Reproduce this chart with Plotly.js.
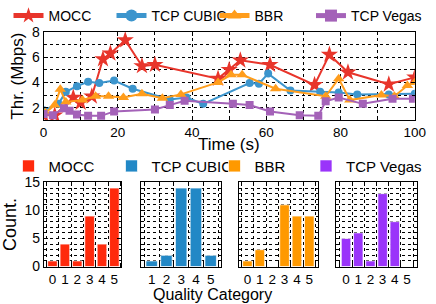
<!DOCTYPE html>
<html><head><meta charset="utf-8">
<script src="https://cdn.plot.ly/plotly-3.0.1.min.js"></script>
<style>html,body{margin:0;padding:0;background:#fff}</style></head>
<body><div id="chart" style="width:436px;height:304px"></div>
<script>
// ---- time series (top) ----
const moccX  = [0, 3, 8, 10, 13, 16, 18, 22, 26.5, 30, 47, 50, 53, 61, 73, 77, 82, 93, 100];
const moccY  = [1.4, 1.4, 2.8, 2.4, 2.9, 5.85, 6.3, 7.35, 5.3, 5.4, 4.3, 5.0, 5.75, 5.4, 3.8, 6.2, 4.8, 3.85, 4.4];
const cubicX = [0, 4, 6, 9, 12, 15, 19, 24, 34, 38.5, 43, 55.5, 58, 60.5, 66.5, 74.5, 79.5, 84.5, 93, 100];
const cubicY = [1.8, 2.3, 3.25, 3.7, 4.05, 3.95, 4.15, 3.5, 2.65, 2.8, 2.3, 3.95, 3.9, 4.7, 3.35, 3.25, 3.2, 3.05, 3.05, 3.1];
const bbrX   = [0.5, 3, 4.5, 6, 10.5, 14, 17.5, 21.5, 26.5, 32, 37, 47, 50.5, 53.5, 62.5, 76, 79.5, 82.5, 91, 94.5, 98, 100];
const bbrY   = [1.6, 2.2, 3.45, 2.45, 2.6, 2.9, 2.9, 2.8, 3.1, 2.75, 3.05, 4.0, 4.6, 4.6, 3.5, 2.9, 4.3, 2.6, 3.0, 2.9, 3.75, 4.0];
const vegasX = [0, 2.5, 5.5, 7, 9, 12, 15.5, 19, 30, 34, 38, 51, 55.5, 61, 69, 74, 76, 79.5, 86, 94, 99.5];
const vegasY = [1.5, 1.4, 1.95, 1.75, 1.45, 1.35, 1.35, 1.7, 1.85, 2.2, 2.55, 2.3, 2.2, 1.7, 1.4, 1.35, 2.5, 2.8, 2.3, 2.7, 2.7];

// ---- quality histograms (bottom) ----
const moccCats  = [0, 1, 2, 3, 4, 5];
const moccCnt   = [1, 4, 1, 9, 4, 14];
const cubicCats = [1, 2, 3, 4, 5];
const cubicCnt  = [1, 2, 14, 14, 2];
const bbrCats   = [0, 1, 2, 3, 4, 5];
const bbrCnt    = [1, 3, 0, 11, 9, 9];
const vegasCats = [0, 1, 2, 3, 4, 5];
const vegasCnt  = [5, 6, 1, 13, 8, 0];

const names = ['MOCC', 'TCP CUBIC', 'BBR', 'TCP Vegas'];
const lineColors = ['#e8352b', '#3c95cd', '#ff9d1c', '#a462b8'];
const barColors  = ['#ff2a0c', '#2288c6', '#ff9900', '#9a34fa'];
const FONT = 'Liberation Sans, Arial, Helvetica, sans-serif';

const traces = [
  {x: moccX, y: moccY, name: names[0], mode: 'lines+markers', line: {color: lineColors[0], width: 2},
   marker: {symbol: 'star', size: 13, color: lineColors[0]}, xaxis: 'x', yaxis: 'y', legend: 'legend'},
  {x: cubicX, y: cubicY, name: names[1], mode: 'lines+markers', line: {color: lineColors[1], width: 2},
   marker: {symbol: 'circle', size: 8, color: lineColors[1]}, xaxis: 'x', yaxis: 'y', legend: 'legend'},
  {x: bbrX, y: bbrY, name: names[2], mode: 'lines+markers', line: {color: lineColors[2], width: 2},
   marker: {symbol: 'triangle-up', size: 10, color: lineColors[2]}, xaxis: 'x', yaxis: 'y', legend: 'legend'},
  {x: vegasX, y: vegasY, name: names[3], mode: 'lines+markers', line: {color: lineColors[3], width: 2},
   marker: {symbol: 'square', size: 8, color: lineColors[3]}, xaxis: 'x', yaxis: 'y', legend: 'legend3'},
];
const barSets = [[moccCats, moccCnt], [cubicCats, cubicCnt], [bbrCats, bbrCnt], [vegasCats, vegasCnt]];
barSets.forEach((s, i) => {
  traces.push({type: 'bar', x: s[0], y: s[1], name: names[i], width: 0.78,
    marker: {color: barColors[i], line: {color: 'rgba(255,255,255,0.7)', width: 1}},
    xaxis: 'x' + (i + 2), yaxis: 'y' + (i + 2), legend: i === 3 ? 'legend4' : 'legend2'});
});

const axBase = {showline: true, linecolor: '#000', linewidth: 1, mirror: 'ticks', zeroline: false,
  ticks: 'inside', ticklen: 4, tickcolor: '#000', tickfont: {size: 14, color: '#000'}, ticklabeloverflow: 'allow'};

function barX(domain, range, cats) {
  const mids = [];
  for (let v = Math.floor(range[0]) + 0.5; v < range[1]; v += 1) mids.push(v);
  return Object.assign({}, axBase, {domain, range, tickvals: cats, ticktext: cats.map(String),
    ticks: '', showgrid: false, tickfont: {size: 13.5, color: '#000'},
    minor: {tickvals: mids, showgrid: true, griddash: 'dot', gridcolor: '#000', gridwidth: 1,
      ticks: 'inside', ticklen: 4, tickcolor: '#000'}});
}
function barY(showLabels) {
  return Object.assign({}, axBase, {domain: [0.1275, 0.4135], range: [0, 15], dtick: 5, showticklabels: showLabels,
    showgrid: true, griddash: 'dot', gridcolor: '#000', gridwidth: 1,
    minor: {dtick: 1, showgrid: true, griddash: 'dot', gridcolor: '#000', gridwidth: 1,
      ticks: 'inside', ticklen: 2, tickcolor: '#000'}});
}

const legTop = {orientation: 'h', xanchor: 'left', y: 1.035, yanchor: 'top', entrywidth: 58, entrywidthmode: 'pixels',
  font: {size: 14}, bgcolor: 'rgba(0,0,0,0)', itemsizing: 'constant'};
const legBot = {orientation: 'h', xanchor: 'left', y: 0.525, yanchor: 'top', entrywidth: 58, entrywidthmode: 'pixels',
  font: {size: 15}, bgcolor: 'rgba(0,0,0,0)'};

const layout = {
  width: 436, height: 304, margin: {l: 0, r: 0, t: 0, b: 0},
  paper_bgcolor: '#fff', plot_bgcolor: '#fff',
  font: {family: FONT, color: '#000', size: 14},
  showlegend: true,
  xaxis: Object.assign({}, axBase, {domain: [0.1025, 0.976], range: [0, 100], tickmode: 'array',
    tickvals: [0, 20, 40, 60, 80, 100], tickfont: {size: 13.5, color: '#000'},
    showgrid: true, griddash: 'dot', gridcolor: '#000', gridwidth: 1,
    minor: {dtick: 10, showgrid: true, griddash: 'dot', gridcolor: '#000', gridwidth: 1, ticks: 'inside', ticklen: 3, tickcolor: '#000'},
    anchor: 'y'}),
  yaxis: Object.assign({}, axBase, {domain: [0.625, 0.9253], range: [1, 8], dtick: 2,
    showgrid: true, griddash: 'dot', gridcolor: '#000', gridwidth: 1,
    minor: {dtick: 1, showgrid: true, griddash: 'dot', gridcolor: '#000', gridwidth: 1, ticks: 'inside', ticklen: 3, tickcolor: '#000'},
    title: {text: 'Thr. (Mbps)', font: {size: 17}, standoff: 4}, anchor: 'x'}),
  xaxis2: Object.assign(barX([0.1032, 0.2851], [-0.7, 5.55], moccCats), {anchor: 'y2'}),
  xaxis3: Object.assign(barX([0.3326, 0.52], [0.3, 5.7], cubicCats), {anchor: 'y3'}),
  xaxis4: Object.assign(barX([0.5619, 0.7493], [-0.7, 5.74], bbrCats), {anchor: 'y4'}),
  xaxis5: Object.assign(barX([0.7913, 0.9823], [-0.8, 5.86], vegasCats), {anchor: 'y5'}),
  yaxis2: Object.assign(barY(true), {anchor: 'x2', title: {text: 'Count.', font: {size: 18}, standoff: 4}}),
  yaxis3: Object.assign(barY(false), {anchor: 'x3'}),
  yaxis4: Object.assign(barY(false), {anchor: 'x4'}),
  yaxis5: Object.assign(barY(false), {anchor: 'x5'}),
  legend:  Object.assign({}, legTop, {x: 0.02}),
  legend3: Object.assign({}, legTop, {x: 0.7317, entrywidth: 80}),
  legend2: Object.assign({}, legBot, {x: 0.02}),
  legend4: Object.assign({}, legBot, {x: 0.72, entrywidth: 80}),
  annotations: [
    {text: 'Time (s)', xref: 'paper', yref: 'paper', x: 0.539, y: 1 - 139 / 304, xanchor: 'center', yanchor: 'middle',
     showarrow: false, font: {size: 17, family: FONT, color: '#000'}},
    {text: 'Quality Category', xref: 'paper', yref: 'paper', x: 0.5, y: 0, xanchor: 'center', yanchor: 'bottom',
     borderpad: 0, showarrow: false, font: {size: 16, family: FONT, color: '#000'}}],
  bargap: 0.2
};

Plotly.newPlot('chart', traces, layout, {displayModeBar: false, staticPlot: true});
</script></body></html>
